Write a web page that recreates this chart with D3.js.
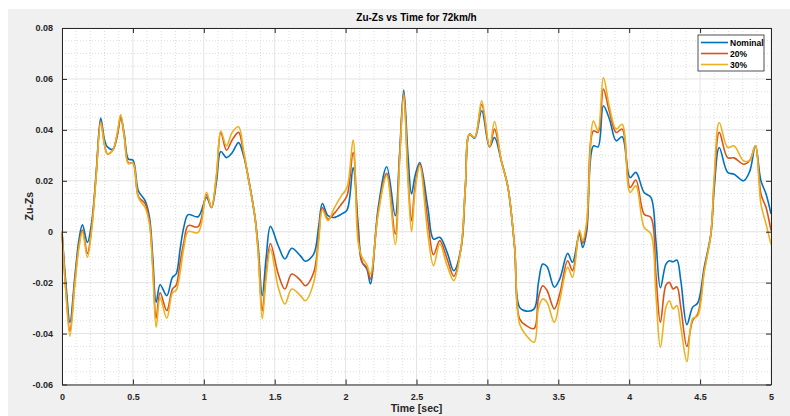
<!DOCTYPE html>
<html>
<head>
<meta charset="utf-8">
<script src="https://cdn.jsdelivr.net/npm/d3@7"></script>
<style>
  body { margin: 0; background: #fff; }
  svg { display: block; font-family: "Liberation Sans", Arial, sans-serif; }
  .tick-label { font-size: 9px; font-weight: bold; fill: #262626; }
</style>
</head>
<body>
<svg id="chart" width="790" height="416"></svg>
<script>
// time samples (sec) and the three suspension responses
const time = [0, 0.03, 0.056, 0.09, 0.12, 0.144, 0.179, 0.21, 0.24, 0.273, 0.30, 0.32, 0.358, 0.39, 0.414,
  0.44, 0.468, 0.50, 0.539, 0.586, 0.617, 0.64, 0.664, 0.692, 0.739, 0.779, 0.805, 0.833, 0.86, 0.89,
  0.96, 1.019, 1.054, 1.09, 1.12, 1.16, 1.20, 1.245, 1.28, 1.314, 1.361, 1.384, 1.412, 1.44, 1.47,
  1.525, 1.572, 1.62, 1.68, 1.716, 1.775, 1.81, 1.836, 1.876, 1.917, 1.97, 2.01, 2.053, 2.088, 2.116,
  2.15, 2.175, 2.23, 2.29, 2.35, 2.38, 2.41, 2.44, 2.465, 2.49, 2.523, 2.58, 2.62, 2.664, 2.716,
  2.763, 2.815, 2.845, 2.874, 2.91, 2.96, 3.015, 3.05, 3.098, 3.145, 3.192, 3.227, 3.275, 3.33, 3.36,
  3.39, 3.42, 3.472, 3.51, 3.566, 3.6, 3.649, 3.672, 3.70, 3.748, 3.78, 3.818, 3.861, 3.908, 3.95,
  4.006, 4.047, 4.105, 4.153, 4.188, 4.22, 4.259, 4.283, 4.31, 4.336, 4.364, 4.407, 4.447, 4.483,
  4.529, 4.576, 4.6, 4.635, 4.694, 4.74, 4.807, 4.85, 4.89, 4.929, 4.965, 5.0];

const nominal = [0, -0.022, -0.0356, -0.018, -0.003, 0.0027, -0.0042, 0.004, 0.022, 0.0446, 0.036, 0.0333, 0.0324, 0.038, 0.0451,
  0.038, 0.0285, 0.0281, 0.016, 0.0122, 0.0056, -0.010, -0.0277, -0.0208, -0.0251, -0.0179, -0.0166, -0.0068, 0.002, 0.0067,
  0.0059, 0.0135, 0.0095, 0.020, 0.0315, 0.0291, 0.031, 0.035, 0.030, 0.0213, 0.0056, -0.0061, -0.0251, -0.010, 0.0021,
  -0.0055, -0.0107, -0.0065, -0.0094, -0.0116, -0.0088, 0.002, 0.0111, 0.0063, 0.0056, 0.0069, 0.0085, 0.0252, 0.003, -0.012,
  -0.0146, -0.0205, 0.0095, 0.0255, 0.0063, 0.030, 0.0556, 0.030, 0.0148, 0.022, 0.0272, 0.0095, -0.0029, -0.0022, -0.0081,
  -0.0153, -0.0062, 0.018, 0.0383, 0.0367, 0.0475, 0.0333, 0.037, 0.0278, 0.0174, -0.0062, -0.0297, -0.0312, -0.0303, -0.020,
  -0.0127, -0.0137, -0.0218, -0.0186, -0.0085, -0.012, -0.0009, -0.0062, 0.000, 0.0337, 0.0333, 0.0494, 0.0442, 0.0357, 0.0373,
  0.0213, 0.0233, 0.0154, 0.0135, -0.0035, -0.022, -0.0127, -0.0114, -0.0118, -0.0111, -0.0192, -0.0365, -0.0297, -0.028,
  -0.014, -0.0009, 0.0174, 0.0331, 0.0233, 0.0226, 0.020, 0.0237, 0.0337, 0.020, 0.0148, 0.007];

const pct20 = [0, -0.025, -0.039, -0.020, -0.005, 0.0007, -0.0085, 0.002, 0.022, 0.0435, 0.034, 0.0306, 0.032, 0.038, 0.045,
  0.037, 0.027, 0.027, 0.0138, 0.011, 0.004, -0.013, -0.034, -0.024, -0.031, -0.0225, -0.021, -0.012, -0.004, 0.0024,
  0.002, 0.0145, 0.0095, 0.022, 0.039, 0.032, 0.036, 0.039, 0.031, 0.021, 0.0056, -0.008, -0.031, -0.016, -0.0046,
  -0.0166, -0.0225, -0.0166, -0.019, -0.0212, -0.016, -0.002, 0.0095, 0.005, 0.007, 0.0108, 0.0141, 0.0311, 0.000, -0.012,
  -0.014, -0.0186, 0.008, 0.0229, -0.0009, 0.028, 0.0545, 0.022, 0.0043, 0.018, 0.0265, 0.0043, -0.009, -0.0035, -0.0107,
  -0.0175, -0.006, 0.018, 0.0383, 0.037, 0.050, 0.0333, 0.0403, 0.028, 0.0174, -0.0062, -0.0342, -0.0369, -0.038, -0.026,
  -0.0212, -0.023, -0.0303, -0.0245, -0.0114, -0.0153, -0.0003, -0.0045, 0.002, 0.0396, 0.039, 0.056, 0.047, 0.039, 0.0403,
  0.0174, 0.0203, 0.0069, 0.0056, -0.0166, -0.0356, -0.021, -0.0199, -0.0225, -0.0216, -0.0297, -0.0451, -0.0349, -0.0323,
  -0.0153, -0.0009, 0.020, 0.039, 0.0291, 0.029, 0.0265, 0.028, 0.0337, 0.0148, 0.0095, 0.0004];

const pct30 = [0, -0.026, -0.041, -0.021, -0.006, 0.0, -0.010, 0.001, 0.021, 0.043, 0.034, 0.0306, 0.032, 0.039, 0.046,
  0.037, 0.0267, 0.027, 0.0134, 0.0095, 0.003, -0.015, -0.0375, -0.026, -0.034, -0.024, -0.023, -0.016, -0.006, 0.0001,
  -0.0003, 0.0155, 0.0095, 0.023, 0.0395, 0.0337, 0.039, 0.0412, 0.032, 0.021, 0.0056, -0.009, -0.0342, -0.018, -0.0068,
  -0.0218, -0.0284, -0.0225, -0.025, -0.0271, -0.020, -0.004, 0.0085, 0.0043, 0.009, 0.0141, 0.0174, 0.036, -0.004, -0.010,
  -0.013, -0.0166, 0.007, 0.022, -0.0051, 0.027, 0.054, 0.020, 0.0, 0.016, 0.026, -0.0009, -0.0133, -0.0048, -0.0133,
  -0.0192, -0.006, 0.018, 0.0383, 0.037, 0.0514, 0.0333, 0.0433, 0.028, 0.0174, -0.0062, -0.0362, -0.0408, -0.0434, -0.030,
  -0.0264, -0.0277, -0.0356, -0.0271, -0.014, -0.0179, 0.0007, -0.0035, 0.004, 0.0435, 0.0396, 0.0605, 0.049, 0.0403, 0.0422,
  0.0154, 0.018, 0.0017, -0.0009, -0.0245, -0.0454, -0.0297, -0.0271, -0.0303, -0.029, -0.0375, -0.051, -0.0342, -0.033,
  -0.016, -0.0009, 0.022, 0.0429, 0.0331, 0.0337, 0.0278, 0.028, 0.0337, 0.0108, 0.003, -0.005];

const seriesNames = ["Nominal", "20%", "30%"];
const seriesColors = ["#0072BD", "#D95319", "#EDB120"];
const seriesValues = [nominal, pct20, pct30];

const xTicks = [0, 0.5, 1, 1.5, 2, 2.5, 3, 3.5, 4, 4.5, 5];
const yTicks = [-0.06, -0.04, -0.02, 0, 0.02, 0.04, 0.06, 0.08];

const plotL = 62, plotR = 771, plotT = 28, plotB = 384.5;

console.log(time.length, nominal.length, pct20.length, pct30.length);

let svg = d3.select("#chart");

// figure background
svg.append("rect").attr("x", 8).attr("y", 9).attr("width", 782).attr("height", 407).attr("fill", "#f0f0f0");
svg.append("rect").attr("x", plotL).attr("y", plotT).attr("width", plotR - plotL).attr("height", plotB - plotT).attr("fill", "#fff");

const x = d3.scaleLinear().domain([0, 5]).range([plotL, plotR]);
const y = d3.scaleLinear().domain([-0.06, 0.08]).range([plotB, plotT]);

// minor grid (dotted)
let grid = svg.append("g");
grid.selectAll(".xminor").data(d3.range(0, 5.001, 0.1).filter(v => Math.abs(v * 2 - Math.round(v * 2)) > 1e-6))
  .enter().append("line")
  .attr("x1", d => x(d)).attr("x2", d => x(d)).attr("y1", plotT).attr("y2", plotB)
  .attr("stroke", "#d4d4d4").attr("stroke-width", 0.8).attr("stroke-dasharray", "1,2");
grid.selectAll(".yminor").data(d3.range(-0.06, 0.0801, 0.005).filter(v => Math.abs(v * 50 - Math.round(v * 50)) > 1e-6))
  .enter().append("line")
  .attr("x1", plotL).attr("x2", plotR).attr("y1", d => y(d)).attr("y2", d => y(d))
  .attr("stroke", "#d4d4d4").attr("stroke-width", 0.8).attr("stroke-dasharray", "1,2");
// major grid
grid.selectAll(".xmajor").data(xTicks).enter().append("line")
  .attr("x1", d => x(d)).attr("x2", d => x(d)).attr("y1", plotT).attr("y2", plotB)
  .attr("stroke", "#e3e3e3").attr("stroke-width", 1);
grid.selectAll(".ymajor").data(yTicks).enter().append("line")
  .attr("x1", plotL).attr("x2", plotR).attr("y1", d => y(d)).attr("y2", d => y(d))
  .attr("stroke", "#e3e3e3").attr("stroke-width", 1);

// data lines
const line = d3.line()
  .x((d, i) => x(time[i]))
  .y(d => y(d))
  .curve(d3.curveCatmullRom.alpha(0.5));

seriesValues.forEach((vals, i) => {
  svg.append("path")
    .datum(vals)
    .attr("d", line)
    .attr("fill", "none")
    .attr("stroke", seriesColors[i])
    .attr("stroke-width", 1.6)
    .attr("stroke-linejoin", "round");
});

// axes (box with inward ticks)
const fmt = d => d === 0 ? "0" : String(+d.toFixed(2));
svg.append("g").attr("transform", `translate(0,${plotB})`)
  .call(d3.axisBottom(x).tickValues(xTicks).tickSizeInner(-5).tickSizeOuter(0).tickPadding(9).tickFormat(fmt))
  .call(g => g.selectAll("text").attr("class", "tick-label"));
svg.append("g").attr("transform", `translate(0,${plotT})`)
  .call(d3.axisTop(x).tickValues(xTicks).tickSizeInner(-5).tickSizeOuter(0).tickFormat(""));
svg.append("g").attr("transform", `translate(${plotL},0)`)
  .call(d3.axisLeft(y).tickValues(yTicks).tickSizeInner(-5).tickSizeOuter(0).tickPadding(9).tickFormat(fmt))
  .call(g => g.selectAll("text").attr("class", "tick-label"));
svg.append("g").attr("transform", `translate(${plotR},0)`)
  .call(d3.axisRight(y).tickValues(yTicks).tickSizeInner(-5).tickSizeOuter(0).tickFormat(""));
svg.selectAll(".domain").attr("stroke", "#262626");
svg.selectAll(".tick line").attr("stroke", "#262626");

// title and labels
svg.append("text").attr("x", (plotL + plotR) / 2).attr("y", 21).attr("text-anchor", "middle")
  .attr("font-size", 10).attr("font-weight", "bold").attr("fill", "#000").text("Zu-Zs vs Time for 72km/h");
svg.append("text").attr("x", (plotL + plotR) / 2).attr("y", 412).attr("text-anchor", "middle")
  .attr("font-size", 10.5).attr("font-weight", "bold").attr("fill", "#262626").text("Time [sec]");
svg.append("text").attr("transform", `translate(33,${(plotT + plotB) / 2}) rotate(-90)`).attr("text-anchor", "middle")
  .attr("font-size", 10.5).attr("font-weight", "bold").attr("fill", "#262626").text("Zu-Zs");

// legend
let legend = svg.append("g");
legend.append("rect").attr("x", 698).attr("y", 35).attr("width", 66).attr("height", 36)
  .attr("fill", "#fff").attr("stroke", "#262626").attr("stroke-width", 0.8);
seriesNames.forEach((name, i) => {
  let ly = 42.5 + i * 11;
  legend.append("line").attr("x1", 701).attr("x2", 728).attr("y1", ly).attr("y2", ly)
    .attr("stroke", seriesColors[i]).attr("stroke-width", 1.6);
  legend.append("text").attr("x", 730).attr("y", ly + 3).attr("font-size", 8.5)
    .attr("font-weight", "bold").attr("fill", "#000").text(name);
});
</script>
</body>
</html>
